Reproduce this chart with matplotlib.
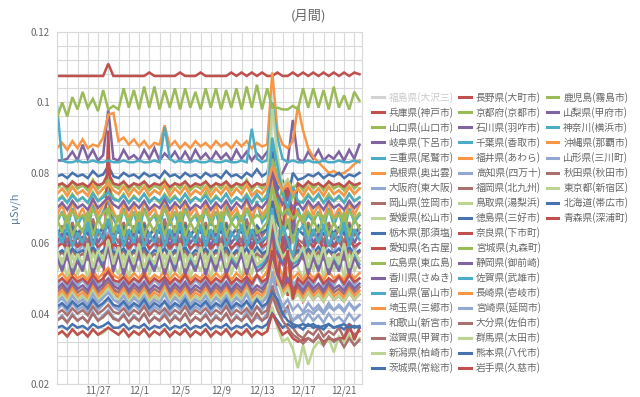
import matplotlib
matplotlib.use('Agg')
import matplotlib.pyplot as plt
from matplotlib.lines import Line2D
import numpy as np

plt.rcParams['font.family'] = ['Noto Sans CJK JP', 'DejaVu Sans']

# readings every 12 hours from 11/23 0:00, in nSv/h (1000 nSv/h = 1 uSv/h)
fukushima = []  # off scale, series hidden
hyogo = [107.5,107.5,107.5,107.5,107.5,107.5,107.5,107.5,107.5,107.5,
         111,107.5,107.5,107.5,107.5,107.5,107.5,107.5,108.5,107.5,
         107.5,107.5,107.5,107.5,108.5,107.5,107.5,107.5,108.5,107.5,
         107.5,107.5,107.5,107.5,108.5,107.5,108.5,107.5,108.5,107.5,
         108.5,107.5,107.5,108.5,107.5,107.5,108.5,107.5,108.5,107.5,
         108.5,107.5,108.5,107.5,108.5,107.5,108.5,107.5,108.5,108]
yamaguchi = [72,73.5,71.5,74,72,73,71.5,74.5,72,73.5,
             76,73,72,74,71.5,73.5,72,74,72,73,
             71.5,74,72,73.5,71.5,74,72,73,72,74.5,
             71.5,73.5,72,74,71.5,73,72,74,71.5,73.5,
             72,74,79,70,76,68,74,71,72,74,
             72,73.5,71.5,74,72,73,71.5,74,72,73]
gifu = [83.5,83.5,84,86,83.5,88,84,86.5,83.5,85,
        98,84,83.5,86.5,84,85,83.5,86.5,84,87,
        83.5,85.5,84,86,83.5,86,83.5,86.5,84,85.5,
        83.5,86,84,85.5,83.5,86.5,84,86,83.5,85.5,
        84,86,85,78,80,83,95,84,83,86,
        84,86.5,83.5,85,84,86,83.5,86.5,84,88]
mie = [66,69,64,70,65,68,63,71,66,69,
       72,67,64,70,65,69,63,70,66,68,
       64,71,65,69,63,70,66,68,64,70,
       65,69,63,71,66,68,64,70,66,72,
       66,68,88,74,62,71,64,70,65,68,
       66,69,64,70,65,69,63,70,66,68]
shimane = [87,88.5,86.5,89,87,89.5,87,88,87.5,90,
           96.5,97,89,90,88,89.5,87.5,89,87,88.5,
           88,93.5,87.5,89,87,88.5,87,89,87.5,88.5,
           87,89,87.5,88.5,87,89,87.5,89,87,88.5,
           87.5,88,108.5,92,88,87,89,99,92,87,
           84.5,83,81.5,80,80.5,79.5,80,81,82.5,83.5]
osaka = [58,62,56,63,57,60,55,64,58,61,
         63,59,56,62,57,61,55,63,58,60,
         56,62,57,61,55,63,58,60,56,62,
         57,61,55,63,58,60,56,62,57,64,
         58,60,75,62,66,55,63,59,56,62,
         58,63,56,61,57,62,55,63,58,60]
okayama = [62,65,60,66,61,64,60,67,62,65,
           66,63,60,66,61,65,60,66,62,64,
           60,67,61,65,60,66,62,64,60,66,
           61,65,60,66,62,64,60,67,61,65,
           62,64,70,60,66,58,65,61,60,66,
           62,65,60,66,61,64,60,66,62,65]
ehime = [52,56,50,57,51,55,50,58,52,56,
         59,54,51,57,50,56,52,58,51,55,
         52,57,50,56,51,58,50,55,52,57,
         50,56,52,58,51,56,50,57,51,58,
         52,54,78,62,56,50,58,53,50,57,
         52,58,50,56,52,57,50,58,52,55]
tochigi = [79,79.5,78.5,80,79,79.5,78.5,80.5,79,79.5,
           82,79,78.5,80,79,79.5,78.5,80,79,79.5,
           78.5,80.5,79,79.5,78.5,80,79,79.5,78.5,80,
           79,79.5,78.5,80.5,79,79.5,78.5,80,79,81,
           79,80,86,75,78,72,80,78,78.5,79.5,
           79,80,78.5,79.5,79,80,78.5,79.5,79,80]
aichi = [44,45.5,43.5,46,44,45,43.5,46,44,45.5,
         92,47,44,46,43.5,45.5,44,46,43.5,45,
         44,46.5,43.5,45.5,44,46,43.5,45,44,46,
         43.5,45.5,44,46,43.5,45.5,44,46,43.5,45,
         44,46,58,50,47,62,45,48,43.5,46,
         44,45.5,43.5,46,44,45,43.5,46,44,45.5]
hiroshima = [75.5,77,75,77.5,75.5,76.5,75,78,75.5,77,
             78,76.5,75.5,77.5,75,77,75.5,77.5,75,76.5,
             75.5,78,75,77,75.5,77.5,75,76.5,75.5,77.5,
             75,77,75.5,77.5,75,77,75.5,78,75,77,
             75.5,77,84,79,76,78,75.5,77,75,77.5,
             75.5,77,75,77.5,75.5,76.5,75,77.5,75.5,77]
kagawa = [60,63,58,64,59,62,58,65,60,63,
          65,61,58,64,59,63,58,64,60,62,
          58,65,59,63,58,64,60,62,58,64,
          59,63,58,64,60,62,58,65,59,63,
          60,62,72,58,66,55,68,60,58,64,
          60,63,58,64,59,62,58,64,60,63]
toyama = [99,83.5,83,83,83.5,83,83,83.5,83,83,
          83.5,83,83,83.5,83,83,83.5,83,83,83.5,
          83,93,84,83,83.5,83,83,83.5,83,83,
          83.5,83,83,83.5,83,83,83.5,83,92.5,84,
          83,83.5,100,90,84,83,83.5,83,83,83.5,
          83,83,83.5,83,83,83.5,83,83,83.5,83]
saitama = [68,71,66,72,67,70,66,73,68,71,
           73,69,66,72,67,71,66,72,68,70,
           66,73,67,71,66,72,68,70,66,72,
           67,71,66,72,68,70,66,73,67,71,
           68,70,78,66,73,64,71,68,66,72,
           68,71,66,72,67,70,66,72,68,71]
wakayama = [48,50,47.5,50.5,48,49.5,47.5,51,48,50,
            52,49,48,50.5,47.5,50,48,51,47.5,49.5,
            48,50.5,47.5,50,48,51,47.5,49.5,48,50.5,
            47.5,50,48,51,47.5,50,48,50.5,47.5,51,
            48,50,64,55,50,56,48,50,47.5,50.5,
            48,51,47.5,50,48,50.5,47.5,51,48,50]
shiga = [56,57.5,55.5,58,56,57,55.5,58.5,56,57.5,
         59,57,56,58,55.5,57.5,56,58,55.5,57,
         56,58.5,55.5,57.5,56,58,55.5,57,56,58,
         55.5,57.5,56,58,55.5,57.5,56,58.5,55.5,57,
         56,58,66,60,57,59,56,57.5,55.5,58,
         56,57.5,55.5,58,56,57,55.5,58,56,57.5]
niigata = [34,35,33.5,35.5,34,35,33.5,35.5,34,34.5,
           36,35,34,35.5,33.5,35,34,35.5,33.5,35,
           34,35.5,33.5,35,34,35.5,33.5,35,34,35.5,
           33.5,35,34,35.5,33.5,35,34,35,33.5,35,
           34,35,42,36,32,33,30,24.5,31,25.5,
           30,32,31,33,29,33.5,32,34,31,33]
ibaraki = [63,64,62.5,64.5,63,64,62.5,65,63,64,
           65.5,63.5,63,64.5,62.5,64,63,65,62.5,64,
           63,64.5,62.5,64,63,65,62.5,64,63,64.5,
           62.5,64,63,65,62.5,64,63,64.5,62.5,65,
           63,64,72,66,63,65,63,64,62.5,64.5,
           63,65,62.5,64,63,64.5,62.5,65,63,64]
nagano = [76.5,77,76,77.5,76.5,77,76,77.5,76.5,77,
          80,77,76.5,77.5,76,77,76.5,77.5,76,77,
          76.5,77.5,76,77,76.5,77.5,76,77,76.5,77.5,
          76,77,76.5,77.5,76,77,76.5,77.5,76,77,
          76.5,77,82,70,64,76,66,77,76,77.5,
          76.5,77,76,77.5,76.5,77,76,77.5,76.5,77]
kyoto = [67,63,68,62,66,63,69,62,67,64,
         70,63,68,62,67,63,69,62,66,63,
         68,62,67,63,69,62,66,63,68,62,
         67,63,69,62,66,64,68,62,67,63,
         64,66,76,70,62,67,60,66,68,62,
         67,63,68,62,66,63,69,62,67,64]
ishikawa = [70,71.5,69.5,72,70,71,69.5,72.5,70,71.5,
            73,71,70,72,69.5,71.5,70,72,69.5,71,
            70,72.5,69.5,71.5,70,72,69.5,71,70,72,
            69.5,71.5,70,72,69.5,71.5,70,72.5,69.5,71,
            70,72,80,74,71,73,70,71.5,69.5,72,
            70,71.5,69.5,72,70,71,69.5,72,70,71.5]
chiba = [57,53,58,52,56,53,59,52,57,54,
         60,53,58,52,57,53,59,52,56,53,
         58,52,57,53,59,52,56,53,58,52,
         57,53,59,52,56,54,58,52,57,53,
         54,56,64,58,55,57,54,55,58,52,
         57,53,58,52,56,53,59,52,57,54]
fukui = [50,51.5,49.5,52,50,51,49.5,52.5,50,51.5,
         53,51,50,52,49.5,51.5,50,52,49.5,51,
         50,52.5,49.5,51.5,50,52,49.5,51,50,52,
         49.5,51.5,50,52,49.5,51.5,50,52.5,49.5,51,
         50,52,60,54,51,53,50,51.5,49.5,52,
         50,51.5,49.5,52,50,51,49.5,52,50,51.5]
kochi = [41,42.5,40.5,43,41,42,40.5,43.5,41,42.5,
         44,42,41,43,40.5,42.5,41,43,40.5,42,
         41,43.5,40.5,42.5,41,43,40.5,42,41,43,
         40.5,42.5,41,43,40.5,42.5,41,43.5,40.5,42,
         41,43,52,46,42,44,41,42.5,40.5,43,
         41,42.5,40.5,43,41,42,40.5,43,41,42.5]
fukuoka = [46,47.5,45.5,48,46,47,45.5,48.5,46,47.5,
           49,47,46,48,45.5,47.5,46,48,45.5,47,
           46,48.5,45.5,47.5,46,48,45.5,47,46,48,
           45.5,47.5,46,48,45.5,47.5,46,48.5,45.5,47,
           46,48,56,50,47,49,46,47.5,45.5,48,
           46,47.5,45.5,48,46,47,45.5,48,46,47.5]
tottori = [74,75.5,73.5,76,74,75,73.5,76.5,74,75.5,
           77,75,74,76,73.5,75.5,74,76,73.5,75,
           74,76.5,73.5,75.5,74,76,73.5,75,74,76,
           73.5,75.5,74,76,73.5,75.5,74,76.5,73.5,75,
           74,76,99,85,76,78,74,75.5,73.5,76,
           74,75.5,73.5,76,74,75,73.5,76,74,75.5]
tokushima = [57,58,56.5,58.5,57,58,56.5,59,57,58,
             59.5,57.5,57,58.5,56.5,58,57,59,56.5,58,
             57,58.5,56.5,58,57,59,56.5,58,57,58.5,
             56.5,58,57,59,56.5,58,57,58.5,56.5,59,
             57,58,64,60,57,59,57,58,56.5,58.5,
             57,59,56.5,58,57,58.5,56.5,59,57,58]
nara = [59,60,58.5,60.5,59,60,58.5,61,59,60,
        62,59.5,59,60.5,58.5,60,59,61,58.5,60,
        59,60.5,58.5,60,59,61,58.5,60,59,60.5,
        58.5,60,59,61,58.5,60,59,60.5,58.5,61,
        59,60,64,48,62,45,56,60,58.5,60.5,
        59,61,58.5,60,59,60.5,58.5,61,59,60]
miyagi = [67,68.5,66.5,69,67,68,66.5,69.5,67,68.5,
          70,68,67,69,66.5,68.5,67,69,66.5,68,
          67,69.5,66.5,68.5,67,69,66.5,68,67,69,
          66.5,68.5,67,69,66.5,68.5,67,69.5,66.5,68,
          67,69,76,71,68,70,67,68.5,66.5,69,
          67,68.5,66.5,69,67,68,66.5,69,67,68.5]
shizuoka = [56,52,57,51,55,52,58,51,56,53,
            59,52,57,51,56,52,58,51,55,52,
            57,51,56,52,58,51,55,52,57,51,
            56,52,58,51,55,53,57,51,56,52,
            53,55,63,57,54,56,53,54,57,51,
            56,52,57,51,55,52,58,51,56,53]
saga = [72,73,71.5,73.5,72,73,71.5,74,72,73,
        74.5,72.5,72,73.5,71.5,73,72,74,71.5,73,
        72,73.5,71.5,73,72,74,71.5,73,72,73.5,
        71.5,73,72,74,71.5,73,72,73.5,71.5,74,
        72,73,90,82,74,70,76,72,71.5,73.5,
        72,74,71.5,73,72,73.5,71.5,74,72,73]
nagasaki = [45,46.5,44.5,47,45,46,44.5,47.5,45,46.5,
            48,46,45,47,44.5,46.5,45,47,44.5,46,
            45,47.5,44.5,46.5,45,47,44.5,46,45,47,
            44.5,46.5,45,47,44.5,46.5,45,47.5,44.5,46,
            45,47,55,49,46,48,45,46.5,44.5,47,
            45,46.5,44.5,47,45,46,44.5,47,45,46.5]
miyazaki = [38,39.5,37.5,40,38,39,37.5,40.5,38,39.5,
            41,39,38,40,37.5,39.5,38,40,37.5,39,
            38,40.5,37.5,39.5,38,40,37.5,39,38,40,
            37.5,39.5,38,40,37.5,39.5,38,40.5,37.5,39,
            38,40,46,42,39,41,38,39.5,37.5,40,
            38,39.5,37.5,40,38,39,37.5,40,38,39.5]
oita = [40,41,39.5,41.5,40,41,39.5,42,40,41,
        42.5,40.5,40,41.5,39.5,41,40,42,39.5,41,
        40,41.5,39.5,41,40,42,39.5,41,40,41.5,
        39.5,41,40,42,39.5,41,40,41.5,39.5,42,
        40,41,48,43,40,42,36,34,33,35,
        34,36,33.5,35,34,36,33,35.5,34,35]
gunma = [44,45.5,43.5,46,44,45,43.5,46.5,44,45.5,
         47,45,44,46,43.5,45.5,44,46,43.5,45,
         44,46.5,43.5,45.5,44,46,43.5,45,44,46,
         43.5,45.5,44,46,43.5,45.5,44,46.5,43.5,45,
         44,46,56,50,45,47,44,45.5,43.5,46,
         44,45.5,43.5,46,44,45,43.5,46,44,45.5]
kumamoto = [36,36.5,35.5,37,36,36.5,35.5,37,36,36.5,
            37.5,36,36,37,35.5,36.5,36,37,35.5,36.5,
            36,37,35.5,36.5,36,37,35.5,36.5,36,37,
            35.5,36.5,36,37,35.5,36.5,36,37,35.5,36.5,
            36,37,40,38,36,37,36,36.5,35.5,37,
            36,36.5,35.5,37,36,36.5,35.5,37,36,36.5]
iwate = [34,35,33.5,35.5,34,35,33.5,35.5,34,35,
         36,35,34,35.5,33.5,35,34,35.5,33.5,35,
         34,35.5,33.5,35,34,35.5,33.5,35,34,35.5,
         33.5,35,34,35.5,33.5,35,34,35.5,33.5,35,
         34,35,40,37,34,35,33,32,32.5,33,
         32,33.5,32,33,32.5,33,33,37,32.5,36]
kagoshima = [95.5,100,96,101.5,98,103,98.5,101,97.5,103.5,
             98,99,98,104,98.5,103.5,98,104.5,98.5,104.5,
             98,103.5,98.5,104,98,104,98.5,103,98,104,
             98.5,104,98,103.5,98.5,104,98,104.5,98.5,105,
             98,104,98.5,98.5,98,98,99,98,104,98.5,
             104,98.5,103.5,98,104.5,98.5,102,98,103,100.5]
yamanashi = [47,48.5,46.5,49,47,48,46.5,49.5,47,48.5,
             50,48,47,49,46.5,48.5,47,49,46.5,48,
             47,49.5,46.5,48.5,47,49,46.5,48,47,49,
             46.5,48.5,47,49,46.5,48.5,47,49.5,46.5,48,
             47,49,57,51,48,50,47,48.5,46.5,49,
             47,48.5,46.5,49,47,48,46.5,49,47,48.5]
kanagawa = [64,60,65,59,63,60,66,59,64,61,
            67,60,65,59,64,60,66,59,63,60,
            65,59,64,60,66,59,63,60,65,59,
            64,60,66,59,63,61,65,59,64,60,
            61,62,70,58,65,61,56,63,65,59,
            64,60,65,59,63,60,66,59,64,61]
okinawa = [74,75.5,73.5,76,74,75,73.5,76.5,74,75.5,
           77,75,74,76,73.5,75.5,74,76,73.5,75,
           74,76.5,73.5,75.5,74,76,73.5,75,74,76,
           73.5,75.5,74,76,73.5,75.5,74,76.5,73.5,75,
           74,76,82,78,75,77,74,75.5,73.5,76,
           74,75.5,73.5,76,74,75,73.5,76,74,75.5]
yamagata = [43,44.5,42.5,45,43,44,42.5,45.5,43,44.5,
            46,44,43,45,42.5,44.5,43,45,42.5,44,
            43,45.5,42.5,44.5,43,45,42.5,44,43,45,
            42.5,44.5,43,45,42.5,44.5,43,45.5,42.5,44,
            43,45,50,46,42,41,38,39,40,41,
            40,41.5,40,42,41,42.5,41,43,41.5,42.5]
akita = [38,39,37.5,39.5,38,39,37.5,40,38,39,
         40.5,38.5,38,39.5,37.5,39,38,40,37.5,39,
         38,39.5,37.5,39,38,40,37.5,39,38,39.5,
         37.5,39,38,40,37.5,39,38,39.5,37.5,40,
         38,39,45,41,38,36,34,33,31.5,33,
         32,34,31,33.5,32,33,30.5,33,31,32.5]
tokyo = [58,54,59,53,57,54,60,53,58,55,
         61,54,59,53,58,54,60,53,57,54,
         59,53,58,54,60,53,57,54,59,53,
         58,54,60,53,57,55,59,53,58,54,
         55,57,68,60,56,58,55,56,59,53,
         58,54,59,53,57,54,60,53,58,55]
hokkaido = [42,43,41.5,43.5,42,43,41.5,44,42,43,
            44.5,42.5,42,43.5,41.5,43,42,44,41.5,43,
            42,43.5,41.5,43,42,44,41.5,43,42,43.5,
            41.5,43,42,44,41.5,43,42,43.5,41.5,44,
            42,43,46,44,40,38,37,36.5,37,36.5,
            37,36,36.5,37,36,36.5,37,36,36.5,36]
aomori = [49,50,48.5,50.5,49,50,48.5,51,49,50,
          52,49.5,49,50.5,48.5,50,49,51,48.5,50,
          49,50.5,48.5,50,49,51,48.5,50,49,50.5,
          48.5,50,49,51,48.5,50,49,50.5,48.5,51,
          49,50,58,52,48,58,44,50,48.5,50.5,
          49,51,48.5,50,49,50.5,48.5,51,49,50]

names = ['福島県(大沢三)', '兵庫県(神戸市)', '山口県(山口市)', '岐阜県(下呂市)', '三重県(尾鷲市)',
         '島根県(奥出雲)', '大阪府(東大阪)', '岡山県(笠岡市)', '愛媛県(松山市)', '栃木県(那須塩)',
         '愛知県(名古屋)', '広島県(東広島)', '香川県(さぬき)', '富山県(富山市)', '埼玉県(三郷市)',
         '和歌山(新宮市)', '滋賀県(甲賀市)', '新潟県(柏崎市)', '茨城県(常総市)',
         '長野県(大町市)', '京都府(京都市)', '石川県(羽咋市)', '千葉県(香取市)', '福井県(あわら)',
         '高知県(四万十)', '福岡県(北九州)', '鳥取県(湯梨浜)', '徳島県(三好市)', '奈良県(下市町)',
         '宮城県(丸森町)', '静岡県(御前崎)', '佐賀県(武雄市)', '長崎県(壱岐市)', '宮崎県(延岡市)',
         '大分県(佐伯市)', '群馬県(太田市)', '熊本県(八代市)', '岩手県(久慈市)',
         '鹿児島(霧島市)', '山梨県(甲府市)', '神奈川(横浜市)', '沖縄県(那覇市)', '山形県(三川町)',
         '秋田県(秋田市)', '東京都(新宿区)', '北海道(帯広市)', '青森県(深浦町)']
series = [fukushima, hyogo, yamaguchi, gifu, mie, shimane, osaka, okayama, ehime, tochigi,
          aichi, hiroshima, kagawa, toyama, saitama, wakayama, shiga, niigata, ibaraki,
          nagano, kyoto, ishikawa, chiba, fukui, kochi, fukuoka, tottori, tokushima, nara,
          miyagi, shizuoka, saga, nagasaki, miyazaki, oita, gunma, kumamoto, iwate,
          kagoshima, yamanashi, kanagawa, okinawa, yamagata, akita, tokyo, hokkaido, aomori]

tick_days = [4, 8, 12, 16, 20, 24, 28]
tick_labels = ['11/27', '12/1', '12/5', '12/9', '12/13', '12/17', '12/21']
y_ticks = [0.02, 0.04, 0.06, 0.08, 0.1, 0.12]
y_labels = ['0.02', '0.04', '0.06', '0.08', '0.1', '0.12']

palette = ['#4672AE', '#C0504D', '#9BBB59', '#8064A2', '#4BACC6',
           '#F79646', '#93A8D1', '#A9716E', '#BED494']
hidden_color = '#D3D3D3'
text_col = '#666666'
grid_col = '#D9D9D9'

fig = plt.figure(figsize=(6.4, 3.97), dpi=100)
ax = fig.add_axes([57/640, 13/397, 305/640, 352/397])

handles = []
for idx in range(len(series)):
    vals = series[idx]
    col = hidden_color if idx == 0 else palette[idx % 9]
    if len(vals) > 0:
        if len(vals) != 60:
            raise ValueError(names[idx] + ' has %d values' % len(vals))
        t = np.arange(len(vals)) * 0.5
        ax.plot(t, np.array(vals) / 1000.0, color=col, lw=1.8, solid_joinstyle='miter')
    handles.append(Line2D([], [], color=col, lw=2.2, label=names[idx]))

# pad the last column so that the legend has 19 rows like the original
while len(handles) < 57:
    handles.append(Line2D([], [], color='none', label=' '))

ax.set_xlim(0, 29.75)
ax.set_ylim(0.02, 0.12)
ax.set_xticks(tick_days)
ax.set_xticklabels(tick_labels)
ax.set_xticks(np.arange(0, 30, 1), minor=True)
ax.set_yticks(y_ticks)
ax.set_yticklabels(y_labels)
ax.set_yticks(np.arange(0.02, 0.1201, 0.004), minor=True)
ax.grid(True, which='both', color=grid_col, lw=0.8)
ax.set_axisbelow(True)
ax.tick_params(which='both', length=0, labelsize=7, colors=text_col)
ax.tick_params(axis='x', pad=1)
ax.tick_params(axis='y', pad=5)
for sp in ax.spines.values():
    sp.set_color(grid_col)
    sp.set_linewidth(0.8)

ax.set_ylabel('μSv/h', fontsize=8, color='#5F7FA0', labelpad=8)
fig.text(308/640, 1 - 16/397, '(月間)', fontsize=9.5, color=text_col, ha='center', va='center')

leg = fig.legend(handles=handles, ncol=3, loc='upper left',
                 bbox_to_anchor=(372/640, 1 - 92/397), frameon=False,
                 fontsize=7, handlelength=1.2, handletextpad=0.5,
                 columnspacing=0.6, labelspacing=0.42, borderaxespad=0, borderpad=0)
for i, txt in enumerate(leg.get_texts()):
    txt.set_color('#C8C8C8' if i == 0 else text_col)

fig.savefig('out.png', dpi=100)
